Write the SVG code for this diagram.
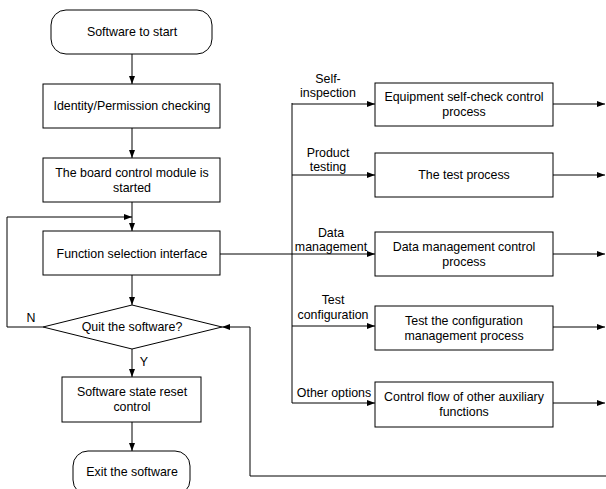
<svg xmlns="http://www.w3.org/2000/svg" width="606" height="489" viewBox="0 0 606 489">
<style>
.b{fill:#fff;stroke:#000;stroke-width:1}
.t{font-family:"Liberation Sans",Arial,sans-serif;font-size:12.4px;fill:#000;text-anchor:middle}
.c{fill:none;stroke:#000;stroke-width:1}
</style>
<defs>
<marker id="a" viewBox="0 0 8 8" refX="8" refY="4" markerWidth="8" markerHeight="8" markerUnits="userSpaceOnUse" orient="auto">
<path d="M0,1 L8,4 L0,7 Z" fill="#000"/>
</marker>
</defs>
<rect width="606" height="489" fill="#fff"/>
<g id="connectors">
<path class="c" d="M132,54 V84" marker-end="url(#a)"/>
<path class="c" d="M132,128 V158" marker-end="url(#a)"/>
<path class="c" d="M132,202 V231" marker-end="url(#a)"/>
<path class="c" d="M132,275 V305" marker-end="url(#a)"/>
<path class="c" d="M43,327 H7 V217 H132" marker-end="url(#a)"/>
<path class="c" d="M132,349 V377" marker-end="url(#a)"/>
<path class="c" d="M132,422 V451" marker-end="url(#a)"/>
<path class="c" d="M220,254 H375" marker-end="url(#a)"/>
<path class="c" d="M292,103 V403"/>
<path class="c" d="M292,104 H375" marker-end="url(#a)"/>
<path class="c" d="M292,175 H375" marker-end="url(#a)"/>
<path class="c" d="M292,326 H375" marker-end="url(#a)"/>
<path class="c" d="M292,403 H375" marker-end="url(#a)"/>
<path class="c" d="M553,104 H605" marker-end="url(#a)"/>
<path class="c" d="M553,175 H605" marker-end="url(#a)"/>
<path class="c" d="M553,254 H605" marker-end="url(#a)"/>
<path class="c" d="M553,327 H605" marker-end="url(#a)"/>
<path class="c" d="M553,403 H605" marker-end="url(#a)"/>
<path class="c" d="M606,476 H250 V327 H222" marker-end="url(#a)"/>
<text class="t" x="31" y="322">N</text>
<text class="t" x="144" y="366">Y</text>
<text class="t" x="328" y="83">Self-</text>
<text class="t" x="328" y="97">inspection</text>
<text class="t" x="328" y="157">Product</text>
<text class="t" x="328" y="171">testing</text>
<text class="t" x="331" y="237">Data</text>
<text class="t" x="331" y="251">management</text>
<text class="t" x="333" y="304">Test</text>
<text class="t" x="333" y="319">configuration</text>
<text class="t" x="334" y="397">Other options</text>
</g>
<g id="start"><rect class="b" x="51" y="10" width="161" height="44" rx="15"/><text class="t" x="132" y="36">Software to start</text></g>
<g id="identity"><rect class="b" x="43" y="84" width="177" height="44"/><text class="t" x="132" y="110">Identity/Permission checking</text></g>
<g id="board"><rect class="b" x="43" y="158" width="177" height="44"/><text class="t" x="132" y="177">The board control module is</text><text class="t" x="132" y="192">started</text></g>
<g id="function"><rect class="b" x="43" y="231" width="177" height="44"/><text class="t" x="132" y="258">Function selection interface</text></g>
<g id="quit"><polygon class="b" points="43,327 132,305 222,327 132,349"/><text class="t" x="132" y="331">Quit the software?</text></g>
<g id="reset"><rect class="b" x="62" y="377" width="139" height="45"/><text class="t" x="132" y="396">Software state reset</text><text class="t" x="132" y="411">control</text></g>
<g id="exit"><rect class="b" x="73" y="451" width="117" height="44" rx="15"/><text class="t" x="132" y="476">Exit the software</text></g>
<g id="selfcheck"><rect class="b" x="375" y="83" width="178" height="43"/><text class="t" x="464" y="101">Equipment self-check control</text><text class="t" x="464" y="116">process</text></g>
<g id="test"><rect class="b" x="375" y="153" width="178" height="44"/><text class="t" x="464" y="179">The test process</text></g>
<g id="data"><rect class="b" x="375" y="232" width="178" height="44"/><text class="t" x="464" y="251">Data management control</text><text class="t" x="464" y="266">process</text></g>
<g id="config"><rect class="b" x="375" y="306" width="178" height="44"/><text class="t" x="464" y="325">Test the configuration</text><text class="t" x="464" y="340">management process</text></g>
<g id="other"><rect class="b" x="375" y="382" width="178" height="45"/><text class="t" x="464" y="401">Control flow of other auxiliary</text><text class="t" x="464" y="416">functions</text></g>
</svg>
